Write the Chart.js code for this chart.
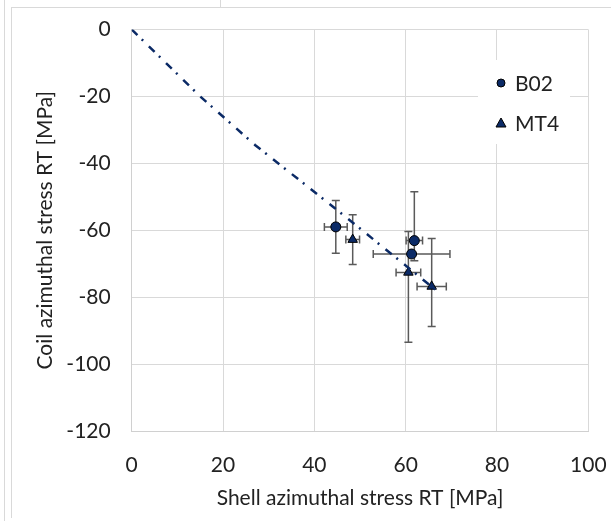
<!DOCTYPE html>
<html>
<head>
<meta charset="utf-8">
<script src="https://cdn.jsdelivr.net/npm/chart.js@4.4.1/dist/chart.umd.min.js"></script>
<style>
    html, body { margin: 0; padding: 0; background: #fff; }
    #wrap { position: relative; width: 611px; height: 521px; overflow: hidden; }
    #canvas { position: absolute; left: 0; top: 0; }
    .frame { position: absolute; background: #d9d9d9; }
</style>
</head>
<body>
<div id="wrap">
    <div class="frame" style="left:4px; top:0; width:1px; height:521px;"></div>
    <div class="frame" style="left:11px; top:7px; width:1px; height:511px;"></div>
    <div class="frame" style="left:11px; top:7px; width:600px; height:1px;"></div>
    <div class="frame" style="left:220px; top:0; width:1px; height:7px;"></div>
    <canvas id="canvas" width="611" height="521"></canvas>
</div>
<script>
'use strict';

// B02 points
const b02X = [44.7, 61.9, 61.3];
const b02Y = [-59.0, -63.1, -67.1];
const b02XErr = [2.5, 1.8, 8.4];
const b02YErrUp = [7.9, 14.6, 0];
const b02YErrDown = [7.9, 6.0, 0];

// MT4 points
const mt4X = [48.4, 60.6, 65.7];
const mt4Y = [-62.8, -72.6, -76.8];
const mt4XErr = [1.5, 2.7, 3.2];
const mt4YErrUp = [7.4, 12.2, 14.3];
const mt4YErrDown = [7.4, 20.9, 12.0];

// dash-dot reference line
const lineX = [0, 15, 27, 44.5, 67];
const lineY = [0, -20, -34.5, -53.4, -78.3];

const xTicks = [0, 20, 40, 60, 80, 100];
const yTicks = [0, -20, -40, -60, -80, -100, -120];

const NAVY = '#0b2a66';
const FONT = 'Lato, "Open Sans", sans-serif';
const FSIZE = 21;

function toPoints(xs, ys) {
    return xs.map((x, i) => ({ x: x, y: ys[i] }));
}

// Error bars drawn behind the markers
const errorBars = {
    id: 'errorBars',
    beforeDatasetsDraw(chart) {
        const ctx = chart.ctx;
        const xs = chart.scales.x, ys = chart.scales.y;
        const cap = 4;
        ctx.save();
        ctx.strokeStyle = '#5a5a5a';
        ctx.lineWidth = 1.5;
        chart.data.datasets.forEach(ds => {
            if (!ds.err) return;
            ds.data.forEach((p, i) => {
                const px = xs.getPixelForValue(p.x);
                const py = ys.getPixelForValue(p.y);
                const xl = xs.getPixelForValue(p.x - ds.err.x[i]);
                const xr = xs.getPixelForValue(p.x + ds.err.x[i]);
                ctx.beginPath();
                ctx.moveTo(xl, py); ctx.lineTo(xr, py);
                ctx.moveTo(xl, py - cap); ctx.lineTo(xl, py + cap);
                ctx.moveTo(xr, py - cap); ctx.lineTo(xr, py + cap);
                ctx.stroke();
                if (ds.err.up[i] > 0 || ds.err.down[i] > 0) {
                    const yt = ys.getPixelForValue(p.y + ds.err.up[i]);
                    const yb = ys.getPixelForValue(p.y - ds.err.down[i]);
                    ctx.beginPath();
                    ctx.moveTo(px, yt); ctx.lineTo(px, yb);
                    ctx.moveTo(px - cap, yt); ctx.lineTo(px + cap, yt);
                    ctx.moveTo(px - cap, yb); ctx.lineTo(px + cap, yb);
                    ctx.stroke();
                }
            });
        });
        ctx.restore();
    }
};

// Legend box inside the plot, top right
const insideLegend = {
    id: 'insideLegend',
    afterDraw(chart) {
        const ctx = chart.ctx;
        const items = chart.data.datasets.filter(ds => ds.err);
        ctx.save();
        ctx.fillStyle = '#fff';
        ctx.fillRect(478, 60, 92, 84);
        ctx.font = FSIZE + 'px ' + FONT;
        ctx.textBaseline = 'middle';
        ctx.textAlign = 'left';
        items.forEach((ds, i) => {
            const y = 83 + i * 40;
            ctx.fillStyle = NAVY;
            ctx.strokeStyle = '#000';
            ctx.lineWidth = 1;
            ctx.beginPath();
            if (ds.pointStyle === 'triangle') {
                ctx.moveTo(501, y - 5);
                ctx.lineTo(506, y + 4);
                ctx.lineTo(496, y + 4);
                ctx.closePath();
            } else {
                ctx.arc(501, y, 4, 0, Math.PI * 2);
            }
            ctx.fill();
            ctx.stroke();
            ctx.fillStyle = '#222';
            ctx.fillText(ds.label, 515, y + 1);
        });
        ctx.restore();
    }
};

const ctx = document.getElementById('canvas').getContext('2d');

new Chart(ctx, {
    type: 'scatter',
    data: {
        datasets: [
            {
                type: 'line',
                label: 'fit',
                data: toPoints(lineX, lineY),
                borderColor: NAVY,
                borderWidth: 2.5,
                borderDash: [8, 6, 2, 8],
                pointRadius: 0,
                fill: false,
                tension: 0,
                order: 0
            },
            {
                label: 'B02',
                data: toPoints(b02X, b02Y),
                pointStyle: 'circle',
                pointRadius: 5,
                backgroundColor: NAVY,
                borderColor: '#000',
                borderWidth: 1,
                err: { x: b02XErr, up: b02YErrUp, down: b02YErrDown },
                order: 1
            },
            {
                label: 'MT4',
                data: toPoints(mt4X, mt4Y),
                pointStyle: 'triangle',
                pointRadius: 5.5,
                backgroundColor: NAVY,
                borderColor: '#000',
                borderWidth: 1,
                err: { x: mt4XErr, up: mt4YErrUp, down: mt4YErrDown },
                order: 1
            }
        ]
    },
    options: {
        responsive: false,
        animation: false,
        layout: { padding: { left: 0, top: 29.5, right: 22.7, bottom: 0 } },
        plugins: {
            legend: { display: false },
            tooltip: { enabled: false }
        },
        scales: {
            x: {
                type: 'linear',
                min: 0,
                max: 100,
                afterBuildTicks: axis => { axis.ticks = xTicks.map(v => ({ value: v })); },
                afterFit: axis => {
                    axis.height = 90;
                    axis.paddingLeft = 0;
                    axis.paddingRight = 0;
                },
                ticks: { color: '#222', font: { family: FONT, size: FSIZE }, padding: 22 },
                grid: { color: '#d9d9d9', lineWidth: 1, drawTicks: false },
                border: { color: '#d0d0d0' },
                title: {
                    display: true,
                    text: 'Shell azimuthal stress RT [MPa]',
                    color: '#222',
                    font: { family: FONT, size: FSIZE },
                    padding: { top: 0, bottom: 10 }
                }
            },
            y: {
                type: 'linear',
                min: -120,
                max: 0,
                afterBuildTicks: axis => { axis.ticks = yTicks.map(v => ({ value: v })); },
                afterFit: axis => {
                    axis.width = 131.7;
                    axis.paddingTop = 0;
                    axis.paddingBottom = 0;
                },
                ticks: { color: '#222', font: { family: FONT, size: FSIZE }, padding: 21 },
                grid: { color: '#d9d9d9', lineWidth: 1, drawTicks: false },
                border: { color: '#d0d0d0' },
                title: {
                    display: true,
                    text: 'Coil azimuthal stress RT [MPa]',
                    color: '#222',
                    font: { family: FONT, size: FSIZE },
                    padding: { top: 33, bottom: 0 }
                }
            }
        }
    },
    plugins: [errorBars, insideLegend]
});
</script>
</body>
</html>
